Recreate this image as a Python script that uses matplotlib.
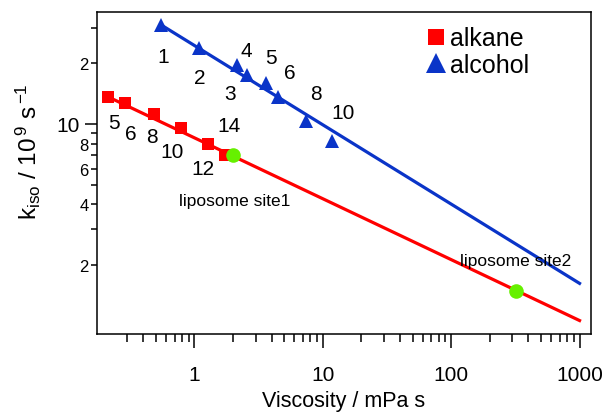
import numpy as np
import matplotlib
matplotlib.use("Agg")
from matplotlib import pyplot as plt
from matplotlib.lines import Line2D
from matplotlib.ticker import FixedLocator, NullFormatter

plt.rcParams['font.family'] = ['Liberation Sans', 'DejaVu Sans']
plt.rcParams['mathtext.fontset'] = 'custom'
plt.rcParams['mathtext.rm'] = 'Liberation Sans'
plt.rcParams['mathtext.it'] = 'Liberation Sans:italic'

#%% data
alkane_visc = [0.211, 0.29, 0.482, 0.782, 1.27, 1.74]
alkane_k = [13.65, 12.66, 11.2, 9.55, 7.96, 7.04]
alkane_n = ['5', '6', '8', '10', '12', '14']

alcohol_visc = [0.544, 1.09, 2.15, 2.57, 3.61, 4.48, 7.4, 11.8]
alcohol_k = [31.1, 23.7, 19.7, 17.5, 15.9, 13.65, 10.3, 8.26]
alcohol_n = ['1', '2', '3', '4', '5', '6', '8', '10']

# power-law fit lines (end points)
alkane_fit_visc = [0.211, 1000]
alkane_fit_k = [13.65, 1.06]
alcohol_fit_visc = [0.544, 1000]
alcohol_fit_k = [31.1, 1.62]

lipo_visc = [2.0, 320]
lipo_k = [7.05, 1.49]
lipo_names = ['liposome site1', 'liposome site2']

#%% label offsets (pixels)
alkane_off = [(6, -26), (5, -30), (-2, -22), (-9, -24), (-5, -25), (4, 29)]
alcohol_off = [(3, -32), (0, -29), (-7, -29), (-1, 24), (5, 26), (12, 24), (10, 28), (11, 28)]
lipo_off = [(2, -46), (0, 30)]

red = '#ff0000'
blue = '#0a34c8'
green = '#66f000'

fig = plt.figure(figsize=(6.05, 4.14), dpi=100)
ax = fig.add_axes([97/605, 1-335/414, 494/605, 322/414])

ax.plot(alkane_fit_visc, alkane_fit_k, color=red, lw=2.3, zorder=2)
ax.plot(alcohol_fit_visc, alcohol_fit_k, color=blue, lw=2.3, zorder=2)
ax.plot(alkane_visc, alkane_k, 's', color=red, ms=8, mew=0, zorder=3)
ax.plot(alcohol_visc, alcohol_k, '^', color=blue, ms=10, mew=0, zorder=3)
ax.plot(lipo_visc, lipo_k, 'o', color=green, ms=10.5, mew=0, zorder=4)

for x, y, s, o in zip(alkane_visc, alkane_k, alkane_n, alkane_off):
    ax.annotate(s, (x, y), xytext=o, textcoords='offset pixels', ha='center', va='center', fontsize=15)
for x, y, s, o in zip(alcohol_visc, alcohol_k, alcohol_n, alcohol_off):
    ax.annotate(s, (x, y), xytext=o, textcoords='offset pixels', ha='center', va='center', fontsize=15)
for x, y, s, o in zip(lipo_visc, lipo_k, lipo_names, lipo_off):
    ax.annotate(s, (x, y), xytext=o, textcoords='offset pixels', ha='center', va='center', fontsize=12.5)

ax.set_xscale('log')
ax.set_yscale('log')
ax.set_xlim(0.174, 1228)
ax.set_ylim(0.909, 35.9)

# x ticks
ax.xaxis.set_major_locator(FixedLocator([1, 10, 100, 1000]))
ax.set_xticklabels(['1', '10', '100', '1000'])
xminor = [m * d for d in [0.1, 1, 10, 100] for m in range(2, 10) if m * d > 0.25]
ax.xaxis.set_minor_locator(FixedLocator(xminor))
ax.xaxis.set_minor_formatter(NullFormatter())
ax.tick_params(axis='x', which='major', length=10, width=1.1, labelsize=15, pad=12)
ax.tick_params(axis='x', which='minor', length=5.8, width=1.1)

# y ticks
ax.yaxis.set_major_locator(FixedLocator([10]))
ax.set_yticklabels(['10'])
yminor = [2, 3, 4, 5, 6, 7, 8, 9, 20, 30]
ax.yaxis.set_minor_locator(FixedLocator(yminor))
ax.set_yticks(yminor, ['2', '', '4', '', '6', '', '8', '', '2', ''], minor=True)
ax.tick_params(axis='y', which='major', length=8.6, width=1.1, labelsize=15, pad=3.6)
ax.tick_params(axis='y', which='minor', length=4, width=1.1, labelsize=12, pad=2)

for sp in ax.spines.values():
    sp.set_linewidth(1.1)

ax.set_xlabel('Viscosity / mPa s', fontsize=15.5)
ax.xaxis.set_label_coords(0.5, -0.175)
ax.xaxis.label.set_va('top')
ax.set_ylabel(r'k$_{\mathrm{iso}}$ / 10$^{\,9}$ s$^{\,\mathrm{-1}}$', fontsize=17.5)
ax.yaxis.set_label_coords(-0.11, 0.57)

handles = [Line2D([], [], marker='s', color=red, ls='none', ms=12, mew=0),
           Line2D([], [], marker='^', color=blue, ls='none', ms=14, mew=0)]
ax.legend(handles, ['alkane', 'alcohol'], loc='upper left', bbox_to_anchor=(0.664, 0.955),
          frameon=False, fontsize=18, handlelength=0.9, handletextpad=0.1,
          labelspacing=0.1, borderpad=0, borderaxespad=0)

fig.savefig('out.png', dpi=100)
